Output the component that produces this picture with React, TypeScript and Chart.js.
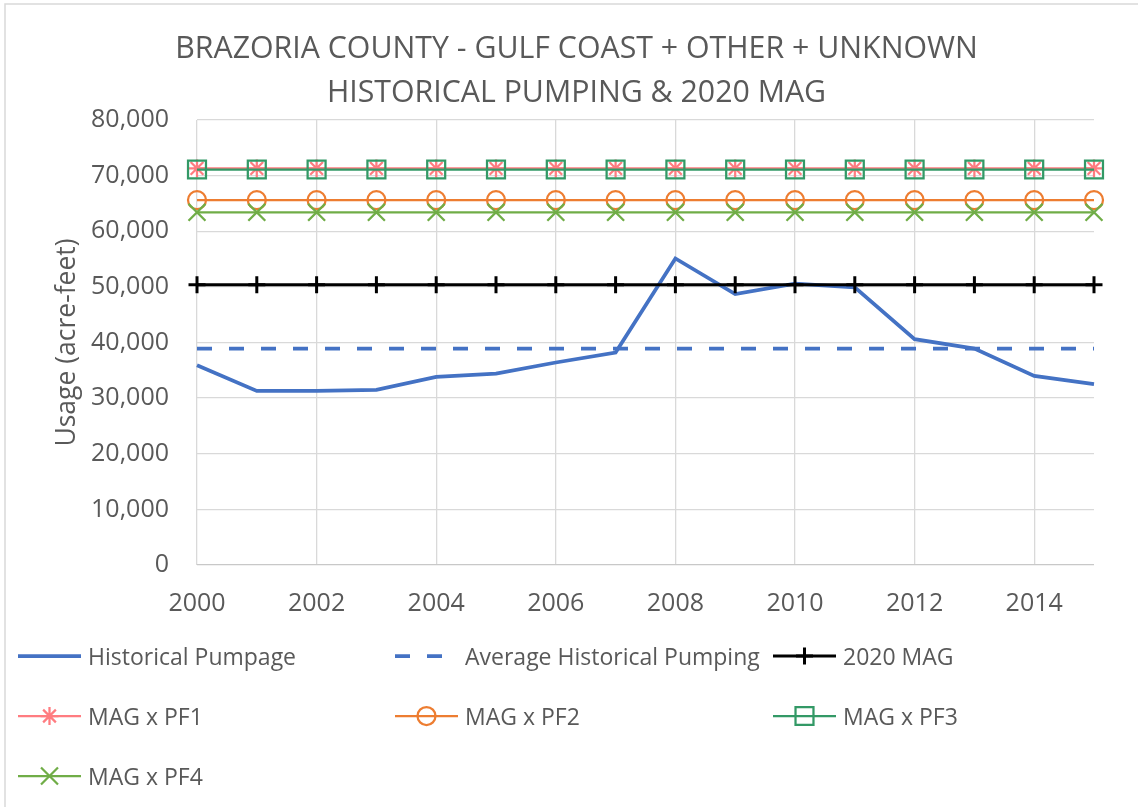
import React, { useEffect, useRef } from 'react';
import { Chart, registerables } from 'chart.js';
import { drawPoint } from 'chart.js/helpers';

Chart.register(...registerables);

// ---------- data ----------
const years = ['2000', '2001', '2002', '2003', '2004', '2005', '2006', '2007', '2008', '2009', '2010', '2011', '2012', '2013', '2014', '2015'];
const historicalPumpage = [35900, 31300, 31300, 31500, 33800, 34400, 36400, 38200, 55100, 48700, 50600, 49900, 40600, 38900, 34000, 32500];
const averageHistoricalPumping = [38900, 38900, 38900, 38900, 38900, 38900, 38900, 38900, 38900, 38900, 38900, 38900, 38900, 38900, 38900, 38900];
const mag2020 = [50400, 50400, 50400, 50400, 50400, 50400, 50400, 50400, 50400, 50400, 50400, 50400, 50400, 50400, 50400, 50400];
const magPF1 = [71300, 71300, 71300, 71300, 71300, 71300, 71300, 71300, 71300, 71300, 71300, 71300, 71300, 71300, 71300, 71300];
const magPF2 = [65600, 65600, 65600, 65600, 65600, 65600, 65600, 65600, 65600, 65600, 65600, 65600, 65600, 65600, 65600, 65600];
const magPF3 = [71100, 71100, 71100, 71100, 71100, 71100, 71100, 71100, 71100, 71100, 71100, 71100, 71100, 71100, 71100, 71100];
const magPF4 = [63400, 63400, 63400, 63400, 63400, 63400, 63400, 63400, 63400, 63400, 63400, 63400, 63400, 63400, 63400, 63400];
const seriesNames = ['Historical Pumpage', 'Average Historical Pumping', '2020 MAG', 'MAG x PF1', 'MAG x PF2', 'MAG x PF3', 'MAG x PF4'];
const yMin = 0;
const yMax = 80000;
const yStep = 10000;
const titleLines = ['BRAZORIA COUNTY - GULF COAST + OTHER + UNKNOWN', 'HISTORICAL PUMPING & 2020 MAG'];
const yAxisTitle = 'Usage (acre-feet)';

// ---------- styles ----------
const FONT = '"Open Sans", "Noto Sans", sans-serif';
const TEXT = '#595959';
const GRID = '#d9d9d9';
const W = 1138;
const H = 807;

const styles = [
  { color: '#4472C4', width: 3.75, dash: [] as number[], point: false as any, radius: 0 },
  { color: '#4472C4', width: 3.75, dash: [15, 17], point: false as any, radius: 0 },
  { color: '#000000', width: 3, dash: [], point: 'cross', radius: 8.5 },
  { color: '#FF7C80', width: 2.25, dash: [], point: 'star', radius: 9 },
  { color: '#ED7D31', width: 2.25, dash: [], point: 'circle', radius: 9 },
  { color: '#339966', width: 2.25, dash: [], point: 'rect', radius: 12.7 },
  { color: '#70AD47', width: 2.25, dash: [], point: 'crossRot', radius: 12 },
];

const seriesData = [historicalPumpage, averageHistoricalPumping, mag2020, magPF1, magPF2, magPF3, magPF4];

const legendCols = [18, 395, 773];
const legendRows = [656, 716, 776];

const decorPlugin = {
  id: 'decor',
  afterDraw(chart: any) {
    const ctx = chart.ctx as CanvasRenderingContext2D;
    ctx.save();
    // outer border (partially visible in reference)
    ctx.strokeStyle = GRID;
    ctx.lineWidth = 1.5;
    ctx.setLineDash([]);
    ctx.beginPath();
    ctx.moveTo(5, H);
    ctx.lineTo(5, 4);
    ctx.lineTo(W, 4);
    ctx.stroke();

    // title
    ctx.fillStyle = TEXT;
    ctx.font = `30.3px ${FONT}`;
    ctx.textAlign = 'center';
    ctx.textBaseline = 'middle';
    titleLines.forEach((t, i) => ctx.fillText(t, 576.5, 49 + i * 44));

    // legend
    chart.data.datasets.forEach((ds: any, i: number) => {
      const st = styles[i];
      const x0 = legendCols[i % 3];
      const y = legendRows[Math.floor(i / 3)];
      const x1 = x0 + 63;
      ctx.strokeStyle = st.color;
      ctx.lineWidth = st.width;
      ctx.setLineDash(st.dash);
      ctx.lineCap = 'butt';
      ctx.beginPath();
      ctx.moveTo(x0, y);
      ctx.lineTo(x1, y);
      ctx.stroke();
      ctx.setLineDash([]);
      if (st.point) {
        ctx.fillStyle = 'rgba(0,0,0,0)';
        drawPoint(ctx, { pointStyle: st.point, radius: st.radius, rotation: 0, borderWidth: st.width } as any, (x0 + x1) / 2, y);
      }
      ctx.fillStyle = TEXT;
      ctx.font = `23px ${FONT}`;
      ctx.textAlign = 'left';
      ctx.textBaseline = 'middle';
      ctx.fillText(ds.label, x0 + 70, y + 2);
    });
    ctx.restore();
  },
};

export default function App() {
  const ref = useRef<HTMLCanvasElement | null>(null);

  useEffect(() => {
    if (!ref.current) return;
    const datasets = seriesData.map((d, i) => {
      const st = styles[i];
      return {
        label: seriesNames[i],
        data: d,
        borderColor: st.color,
        backgroundColor: 'rgba(0,0,0,0)',
        borderWidth: st.width,
        borderDash: st.dash,
        tension: 0,
        fill: false,
        pointStyle: st.point || 'circle',
        pointRadius: st.radius,
        pointHoverRadius: st.radius,
        pointBorderColor: st.color,
        pointBackgroundColor: 'rgba(0,0,0,0)',
        pointBorderWidth: st.width,
        order: -i,
      };
    });

    const chart = new Chart(ref.current, {
      type: 'line',
      data: { labels: years, datasets },
      plugins: [
        {
          id: 'bg',
          beforeDraw(c: any) {
            const ctx = c.ctx;
            ctx.save();
            ctx.fillStyle = '#ffffff';
            ctx.fillRect(0, 0, c.width, c.height);
            ctx.restore();
          },
        },
        decorPlugin,
      ],
      options: {
        responsive: false,
        animation: false,
        events: [],
        layout: { padding: { top: 120, right: 44, bottom: 182, left: 0 } },
        plugins: {
          legend: { display: false },
          title: { display: false },
          tooltip: { enabled: false },
        },
        scales: {
          x: {
            type: 'category',
            offset: false,
            border: { display: false },
            grid: {
              color: (ctx: any) => (ctx.index % 2 === 0 ? GRID : 'rgba(0,0,0,0)'),
              lineWidth: 1.3,
              drawTicks: false,
            },
            ticks: {
              autoSkip: false,
              maxRotation: 0,
              minRotation: 0,
              padding: 24,
              color: TEXT,
              font: { family: FONT, size: 25 },
              callback: (_v: any, i: number) => (i % 2 === 0 ? years[i] : ''),
            },
            afterFit: (scale: any) => {
              scale.height = 60;
            },
          },
          y: {
            min: yMin,
            max: yMax,
            border: { display: false },
            grid: {
              color: (ctx: any) => (ctx.tick && ctx.tick.value === 0 ? '#c8c8c8' : GRID),
              lineWidth: 1.3,
              drawTicks: false,
            },
            ticks: {
              stepSize: yStep,
              padding: 28,
              color: TEXT,
              font: { family: FONT, size: 25 },
              callback: (v: any) => Number(v).toLocaleString('en-US'),
            },
            title: {
              display: true,
              text: yAxisTitle,
              color: TEXT,
              font: { family: FONT, size: 26.5 },
              padding: { top: 52, bottom: 0 },
            },
            afterFit: (scale: any) => {
              scale.width = 197;
            },
          },
        },
      },
    } as any);
    return () => chart.destroy();
  }, []);

  return (
    <div style={{ position: 'absolute', left: 0, top: 0, width: W, height: H, background: '#fff' }}>
      <canvas ref={ref} width={W} height={H} style={{ display: 'block', width: W, height: H }} />
    </div>
  );
}
